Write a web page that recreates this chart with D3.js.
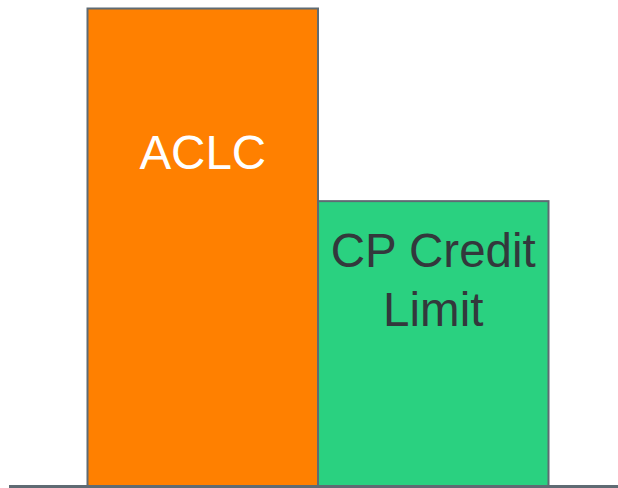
<!DOCTYPE html>
<html>
<head>
<meta charset="utf-8">
<script src="https://cdn.jsdelivr.net/npm/d3@7"></script>
<style>
  body { margin: 0; background: #fff; }
  svg { display: block; }
</style>
</head>
<body>
<div id="container"></div>
<script>
// categories and values
var categories = ["ACLC", "CP Credit Limit"];
var values = [100, 59.7];
var labelLines = [["ACLC"], ["CP Credit", "Limit"]];
var fills = ["#ff8000", "#2ad180"];
var textColors = ["#ffffff", "#33383c"];

var width = 618, height = 488;

var svg = d3.select("#container").append("svg")
  .attr("width", width)
  .attr("height", height);

var x = d3.scaleBand()
  .domain(categories)
  .range([87.5, 548.5])
  .padding(0);

var y = d3.scaleLinear()
  .domain([0, 100])
  .range([486.5, 8.5]);

// bars
svg.selectAll("rect.bar")
  .data(categories)
  .enter()
  .append("rect")
    .attr("class", "bar")
    .attr("x", (d) => x(d))
    .attr("y", (d, i) => y(values[i]))
    .attr("width", x.bandwidth())
    .attr("height", (d, i) => y(0) - y(values[i]))
    .attr("fill", (d, i) => fills[i])
    .attr("stroke", "#5f6b73")
    .attr("stroke-width", 2);

// baseline
svg.append("line")
  .attr("x1", 9)
  .attr("x2", width)
  .attr("y1", y(0))
  .attr("y2", y(0))
  .attr("stroke", "#5f6b73")
  .attr("stroke-width", 3);

// labels
var lineH = 59;
var labelBase = [169, 267];
categories.forEach(function (c, i) {
  var t = svg.append("text")
    .attr("x", x(c) + x.bandwidth() / 2)
    .attr("y", labelBase[i])
    .attr("text-anchor", "middle")
    .attr("font-family", "Liberation Sans, Arial, sans-serif")
    .attr("font-size", 47.5)
    .attr("fill", textColors[i]);
  labelLines[i].forEach(function (l, j) {
    t.append("tspan")
      .attr("x", x(c) + x.bandwidth() / 2)
      .attr("y", labelBase[i] + j * lineH)
      .text(l);
  });
});
</script>
</body>
</html>
